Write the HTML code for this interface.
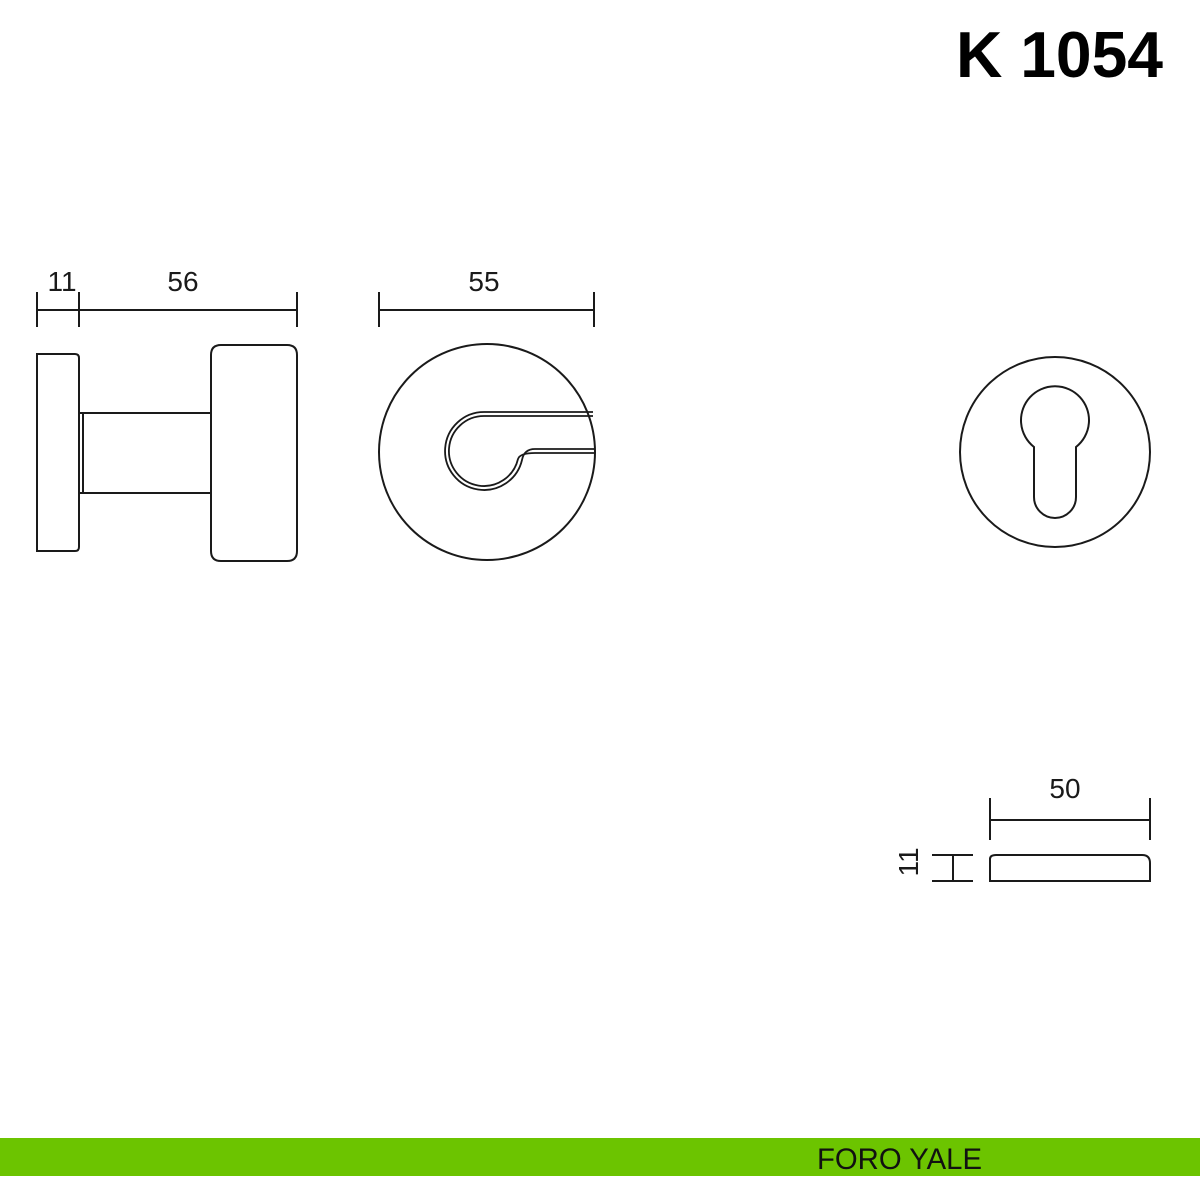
<!DOCTYPE html>
<html><head><meta charset="utf-8"><style>
html,body{margin:0;padding:0;background:#fff;}
svg{display:block;}
</style></head><body>
<svg width="1200" height="1200" viewBox="0 0 1200 1200" xmlns="http://www.w3.org/2000/svg">
<rect width="1200" height="1200" fill="#fff"/>
<text x="956" y="77" font-family="Liberation Sans, sans-serif" font-size="65" font-weight="bold" textLength="207" lengthAdjust="spacingAndGlyphs" fill="#000">K 1054</text>

<g stroke="#1a1a1a" stroke-width="2" fill="none">
<line x1="37" y1="310" x2="297" y2="310"/>
<line x1="37" y1="292" x2="37" y2="327"/>
<line x1="79" y1="292" x2="79" y2="327"/>
<line x1="297" y1="292" x2="297" y2="327"/>
<line x1="379" y1="310" x2="594" y2="310"/>
<line x1="379" y1="292" x2="379" y2="327"/>
<line x1="594" y1="292" x2="594" y2="327"/>
<path d="M37 354 H75 Q79 354 79 358 V547 Q79 551 75 551 H37 Z"/>
<line x1="79" y1="413" x2="211" y2="413"/>
<line x1="79" y1="493" x2="211" y2="493"/>
<line x1="83" y1="413" x2="83" y2="493"/>
<path d="M221 345 H287 Q297 345 297 355 V551 Q297 561 287 561 H221 Q211 561 211 551 V355 Q211 345 221 345 Z"/>
<circle cx="487" cy="452" r="108"/>
<path d="M593 412 H484 A39 39 0 1 0 522 460 Q524 449 535 449 H594" stroke-width="1.8"/>
<path d="M593 416 H484 A35 35 0 1 0 518 459 Q520 453 535 453 H594" stroke-width="1.8"/>
<circle cx="1055" cy="452" r="95"/>
<path d="M1034 447 A34 34 0 1 1 1076 447 V497 A21 21 0 0 1 1034 497 Z"/>
<line x1="990" y1="820" x2="1150" y2="820"/>
<line x1="990" y1="798" x2="990" y2="840"/>
<line x1="1150" y1="798" x2="1150" y2="840"/>
<path d="M990 881 V859 Q990 855 996 855 H1142 Q1150 855 1150 863 V881 Z"/>
<line x1="932" y1="855" x2="973" y2="855"/>
<line x1="932" y1="881" x2="973" y2="881"/>
<line x1="953" y1="855" x2="953" y2="881"/>
</g>

<g font-family="Liberation Sans, DejaVu Sans, sans-serif" font-size="28" fill="#1a1a1a" text-anchor="middle">
<text x="62" y="291">11</text>
<text x="183" y="291">56</text>
<text x="484" y="291">55</text>
<text x="1065" y="798">50</text>
<text x="0" y="0" transform="translate(918 862) rotate(-90)">11</text>
</g>

<rect x="0" y="1138" width="1200" height="38" fill="#6cc400"/>
<text x="817" y="1169" font-family="Liberation Sans, sans-serif" font-size="30" textLength="165" lengthAdjust="spacingAndGlyphs" fill="#111">FORO YALE</text>
</svg>
</body></html>
